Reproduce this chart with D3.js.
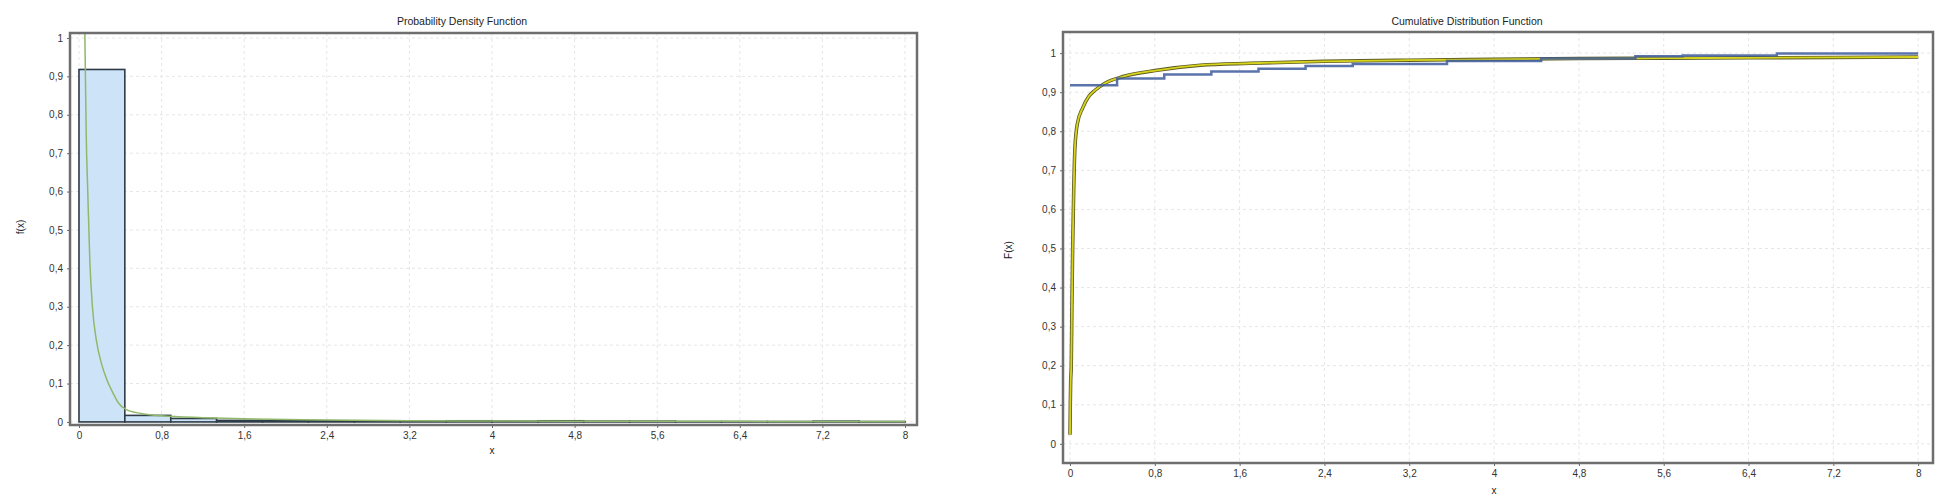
<!DOCTYPE html>
<html>
<head>
<meta charset="utf-8">
<script src="https://cdn.jsdelivr.net/npm/d3@7"></script>
<style>
  body { margin: 0; background: #fff; }
  text { font-family: "Liberation Sans", Arial, sans-serif; fill: #222; }
  .grid line { stroke: #e6e6e6; stroke-dasharray: 3,3; }
  .axis path, .axis line { stroke: #6a6a6a; }
  .axis text { font-size: 10px; fill: #333; }
</style>
</head>
<body>
<div id="viz"></div>
<script>
// Histogram bins over [0, 8] (relative frequency per bin)
const binEdges = [0, 0.444, 0.889, 1.333, 1.778, 2.222, 2.667, 3.111, 3.556, 4.0,
                  4.444, 4.889, 5.333, 5.778, 6.222, 6.667, 7.111, 7.556, 8.0];
const binFreq = [0.918, 0.017, 0.009, 0.004, 0.003, 0.003, 0.003, 0.002, 0.003,
                 0.002, 0.003, 0.002, 0.002, 0.001, 0.001, 0.001, 0.002, 0.001];

// Empirical CDF at the start of each bin (step function)
const ecdfValues = [0.918, 0.935, 0.945, 0.953, 0.960, 0.967, 0.972, 0.972, 0.980,
                    0.980, 0.986, 0.986, 0.992, 0.994, 0.994, 0.999, 0.999, 0.999, 0.999];

// Fitted density f(x)
const pdfX = [0.055, 0.06, 0.07, 0.085, 0.105, 0.13, 0.17, 0.22, 0.27, 0.33, 0.38,
              0.46, 0.6, 0.8, 1.2, 1.6, 2.4, 3.2, 4.8, 6.4, 8];
const pdfY = [1.05, 0.95, 0.75, 0.6, 0.42, 0.3, 0.21, 0.15, 0.11, 0.075, 0.05,
              0.032, 0.022, 0.016, 0.011, 0.008, 0.005, 0.003, 0.002, 0.0015, 0.001];

// Fitted CDF F(x)
const cdfX = [0.0, 0.003, 0.006, 0.012, 0.018, 0.025, 0.035, 0.047, 0.07, 0.12, 0.18,
              0.236, 0.33, 0.5, 0.82, 1.23, 1.7, 2.4, 3.2, 4.0, 4.8, 5.6, 6.4, 7.2, 8.0];
const cdfY = [0.023, 0.1, 0.156, 0.2, 0.35, 0.5, 0.65, 0.76, 0.82, 0.86, 0.89,
              0.905, 0.923, 0.94, 0.956, 0.969, 0.974, 0.979, 0.982, 0.984, 0.986,
              0.987, 0.988, 0.989, 0.99];

// Ticks
const xTicks = [0, 0.8, 1.6, 2.4, 3.2, 4, 4.8, 5.6, 6.4, 7.2, 8];
const yTicks = [0, 0.1, 0.2, 0.3, 0.4, 0.5, 0.6, 0.7, 0.8, 0.9, 1];

// Window / chart geometry
const width = 1941;
const height = 504;

const pdfBox = {left: 70, right: 917, top: 33, bottom: 425};
const cdfBox = {left: 1063, right: 1933, top: 32, bottom: 463};

const locale = d3.formatLocale({decimal: ",", thousands: ".", grouping: [3], currency: ["", ""]});
const tickFmt = locale.format(".1~f");

const svg = d3.select("#viz")
  .append("svg")
  .attr("width", width)
  .attr("height", height);

// Draws grid, axes and labels for one panel, returns scales
function panel(box, xDomain, yDomain, title, titleX, yLabel, yLabelX, yLabelY, xLabelY, id) {
  const x = d3.scaleLinear().domain(xDomain).range([box.left, box.right]);
  const y = d3.scaleLinear().domain(yDomain).range([box.bottom, box.top]);

  svg.append("clipPath").attr("id", id)
    .append("rect")
    .attr("x", box.left).attr("y", box.top)
    .attr("width", box.right - box.left)
    .attr("height", box.bottom - box.top);

  // grid
  const grid = svg.append("g").attr("class", "grid");
  grid.selectAll(".vx").data(xTicks).enter().append("line")
    .attr("x1", d => x(d)).attr("x2", d => x(d))
    .attr("y1", box.top).attr("y2", box.bottom);
  grid.selectAll(".hy").data(yTicks).enter().append("line")
    .attr("y1", d => y(d)).attr("y2", d => y(d))
    .attr("x1", box.left).attr("x2", box.right);

  // axes
  svg.append("g")
    .attr("class", "axis")
    .attr("transform", "translate(0," + box.bottom + ")")
    .call(d3.axisBottom(x).tickValues(xTicks).tickFormat(tickFmt).tickSize(3).tickPadding(4))
    .call(g => g.select(".domain").remove());

  svg.append("g")
    .attr("class", "axis")
    .attr("transform", "translate(" + box.left + ",0)")
    .call(d3.axisLeft(y).tickValues(yTicks).tickFormat(tickFmt).tickSize(3).tickPadding(4))
    .call(g => g.select(".domain").remove());

  // title
  svg.append("text")
    .attr("x", titleX).attr("y", 25)
    .attr("text-anchor", "middle")
    .style("font-size", "10.5px")
    .text(title);

  // x label
  svg.append("text")
    .attr("x", x(4)).attr("y", xLabelY)
    .attr("text-anchor", "middle")
    .style("font-size", "10px")
    .text("x");

  // y label
  svg.append("text")
    .attr("transform", "translate(" + yLabelX + "," + yLabelY + ") rotate(-90)")
    .attr("text-anchor", "middle")
    .style("font-size", "10px")
    .text(yLabel);

  return {x: x, y: y};
}

function frame(box) {
  svg.append("rect")
    .attr("x", box.left).attr("y", box.top)
    .attr("width", box.right - box.left)
    .attr("height", box.bottom - box.top)
    .attr("fill", "none")
    .attr("stroke", "#6e6e6e")
    .attr("stroke-width", 2.5);
}

// ---- Probability Density Function ----
const p = panel(pdfBox, [-0.087, 8.116], [-0.008, 1.013],
  "Probability Density Function", 462, "f(x)", 24, 227, 454, "clipPdf");

const bins = binFreq.map((f, i) => ({x0: binEdges[i], x1: binEdges[i + 1], f: f}));

svg.append("g")
  .attr("clip-path", "url(#clipPdf)")
  .selectAll("rect")
  .data(bins)
  .enter().append("rect")
  .attr("x", d => p.x(d.x0))
  .attr("width", d => p.x(d.x1) - p.x(d.x0))
  .attr("y", d => p.y(d.f))
  .attr("height", d => p.y(0) - p.y(d.f))
  .attr("fill", "#cde4f8")
  .attr("stroke", "#2e3b48")
  .attr("stroke-width", 1.6);

const pdfLine = d3.line()
  .x(d => p.x(d[0]))
  .y(d => p.y(d[1]))
  .curve(d3.curveMonotoneX);

svg.append("path")
  .attr("clip-path", "url(#clipPdf)")
  .attr("d", pdfLine(pdfX.map((v, i) => [v, pdfY[i]])))
  .attr("fill", "none")
  .attr("stroke", "#8fb86a")
  .attr("stroke-width", 1.5);

frame(pdfBox);

// ---- Cumulative Distribution Function ----
const c = panel(cdfBox, [-0.066, 8.14], [-0.049, 1.054],
  "Cumulative Distribution Function", 1467, "F(x)", 1012, 250, 494, "clipCdf");

const cdfLine = d3.line()
  .x(d => c.x(d[0]))
  .y(d => c.y(d[1]))
  .curve(d3.curveMonotoneX);

const cdfPts = cdfX.map((v, i) => [v, cdfY[i]]);

svg.append("path")
  .attr("clip-path", "url(#clipCdf)")
  .attr("d", cdfLine(cdfPts))
  .attr("fill", "none")
  .attr("stroke", "#5c5c22")
  .attr("stroke-width", 3.5);

svg.append("path")
  .attr("clip-path", "url(#clipCdf)")
  .attr("d", cdfLine(cdfPts))
  .attr("fill", "none")
  .attr("stroke", "#d8d41e")
  .attr("stroke-width", 1.8);

const stepLine = d3.line()
  .x(d => c.x(d[0]))
  .y(d => c.y(d[1]))
  .curve(d3.curveStepAfter);

svg.append("path")
  .attr("clip-path", "url(#clipCdf)")
  .attr("d", stepLine(binEdges.map((e, i) => [e, ecdfValues[i]])))
  .attr("fill", "none")
  .attr("stroke", "#3d5c9c")
  .attr("stroke-width", 2.5)
  .attr("stroke-opacity", 0.85);

frame(cdfBox);
</script>
</body>
</html>
